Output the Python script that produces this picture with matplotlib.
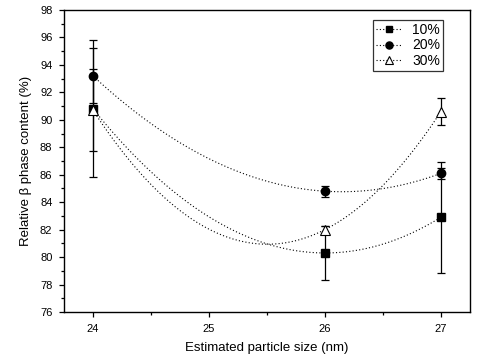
import numpy as np
import matplotlib
matplotlib.use("Agg")
import matplotlib.pyplot as plt
from matplotlib.ticker import MultipleLocator

plt.rcParams['font.family'] = ['Liberation Sans', 'DejaVu Sans']

sizes = [24, 26, 27]
series = ["10%", "20%", "30%"]
y10 = [90.8, 80.3, 82.9]
e10 = [5.0, 2.0, 4.05]
y20 = [93.2, 84.8, 86.1]
e20 = [2.0, 0.4, 0.4]
y30 = [90.7, 82.0, 90.6]
e30 = [3.0, 0.3, 1.0]

fig = plt.figure(figsize=(4.8, 3.62), dpi=100)
ax = fig.add_axes([0.1333, 0.1381, 0.8457, 0.8343])

styles = [
    dict(marker='s', mfc='black', mec='black', ms=5.5),
    dict(marker='o', mfc='black', mec='black', ms=6),
    dict(marker='^', mfc='white', mec='black', ms=6.5, mew=0.8),
]
handles = []
xs = np.linspace(24, 27, 200)
for ys, es, st in zip([y10, y20, y30], [e10, e20, e30], styles):
    coef = np.polyfit(sizes, ys, 2)
    ax.plot(xs, np.polyval(coef, xs), color='black', lw=0.8, ls=(0, (1, 2)), zorder=2)
    ax.errorbar(sizes, ys, yerr=es, fmt='none', ecolor='black', elinewidth=0.9,
                capsize=3, capthick=0.9, zorder=3)
    ax.plot(sizes, ys, ls='none', zorder=4, **st)
    h, = ax.plot([], [], color='black', lw=0.8, ls=(0, (1, 2)), **st)
    handles.append(h)

ax.set_xlim(23.75, 27.25)
ax.set_ylim(76, 98)
ax.xaxis.set_major_locator(MultipleLocator(1))
ax.xaxis.set_minor_locator(MultipleLocator(0.5))
ax.yaxis.set_major_locator(MultipleLocator(2))
ax.yaxis.set_minor_locator(MultipleLocator(1))
ax.tick_params(which='major', direction='out', length=3.8, width=0.9, labelsize=8, pad=4.5,
               top=False, right=False)
ax.tick_params(which='minor', direction='out', length=2.3, width=0.9, top=False, right=False)
for sp in ax.spines.values():
    sp.set_linewidth(1.0)

ax.set_xlabel("Estimated particle size (nm)", fontsize=9.5, labelpad=6)
ax.set_ylabel("Relative β phase content (%)", fontsize=9.5, labelpad=6)

leg = ax.legend(handles, series, loc='upper right', bbox_to_anchor=(0.933, 0.967),
                fontsize=10, frameon=True, fancybox=False, edgecolor='black',
                handlelength=1.9, handletextpad=0.7, borderpad=0.2, labelspacing=0.12,
                borderaxespad=0, markerscale=0.85)
leg.get_frame().set_linewidth(0.9)

fig.savefig("out.png", dpi=100)
